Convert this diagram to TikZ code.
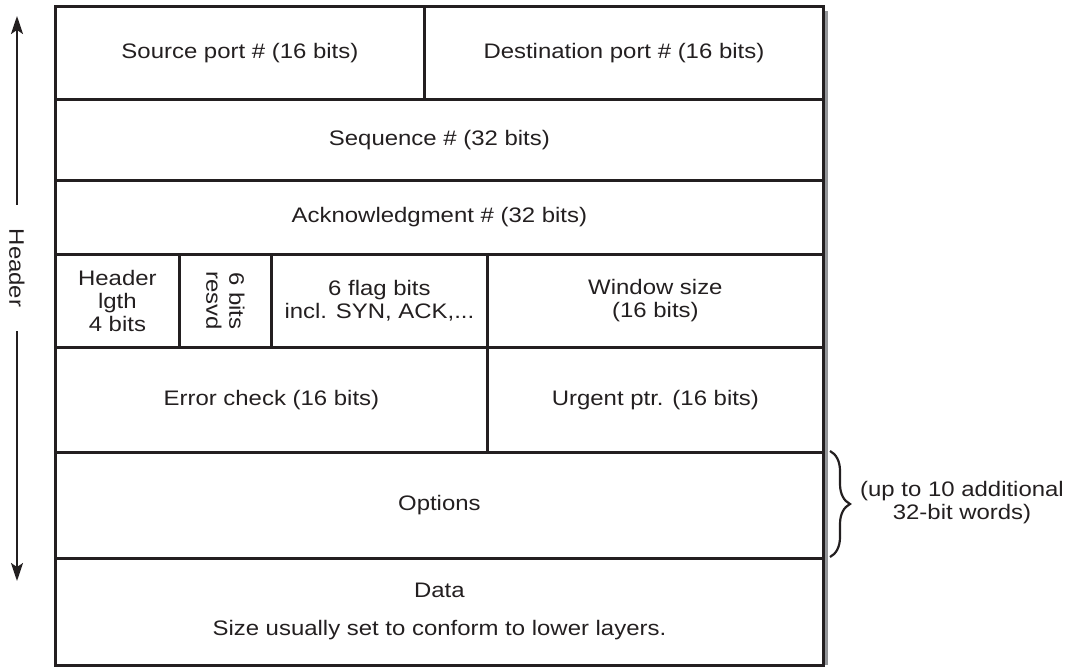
\documentclass[tikz,border=0pt]{standalone}
\usepackage{fontspec}
\setmainfont{Liberation Sans}[FakeStretch=1.14]
\usetikzlibrary{arrows.meta,positioning,decorations.pathreplacing}
\definecolor{Ink}{HTML}{231F20}
\definecolor{Shade}{HTML}{939598}

\begin{document}
\begin{tikzpicture}[x=1pt, y=-1pt,
  cell/.style={draw=Ink, line width=2.8pt, anchor=north west, inner sep=0pt,
               align=center, font=\fontsize{21}{23}\selectfont, text=Ink},
  lbl/.style={align=center, inner sep=0pt, font=\fontsize{21}{23}\selectfont, text=Ink},
  arr/.style={-{Stealth[length=18pt, width=12pt, inset=4pt]}, line width=2.2pt, draw=Ink},
  brace/.style={decorate, decoration={brace, amplitude=20pt}, line width=2.2pt, draw=Ink}]
  \useasboundingbox (0,0) rectangle (1075,667);
  % drop shadow on the right edge
  \fill[Shade] (823,11) rectangle (828,665);
  % header rows
  \node[cell, minimum width=369pt, minimum height=93pt] (src) at (54,5) {Source port \# (16 bits)};
  \node[cell, minimum width=399pt, minimum height=93pt] (dst) at (423,5) {Destination port \# (16 bits)};
  \node[cell, minimum width=768pt, minimum height=81pt] (seq) at (54,98) {Sequence \# (32 bits)};
  \node[cell, minimum width=768pt, minimum height=74pt] (ack) at (54,179) {Acknowledgment \# (32 bits)};
  \node[cell, minimum width=124pt, minimum height=93pt] (hlen) at (54,253) {Header\\lgth\\4 bits};
  \node[cell, minimum width=92pt, minimum height=93pt] (resv) at (178,253) {};
  \node[lbl, rotate=-90] (resvtxt) at (resv.center) {6 bits\\resvd};
  \node[cell, minimum width=216pt, minimum height=93pt] (flags) at (270,253) {6 flag bits\\incl. SYN, ACK,...};
  \node[cell, minimum width=336pt, minimum height=93pt] (win) at (486,253) {Window size\\(16 bits)};
  \node[cell, minimum width=432pt, minimum height=105pt] (err) at (54,346) {Error check (16 bits)};
  \node[cell, minimum width=336pt, minimum height=105pt] (urg) at (486,346) {Urgent ptr. (16 bits)};
  \node[cell, minimum width=768pt, minimum height=106pt] (opt) at (54,451) {Options};
  \node[cell, minimum width=768pt, minimum height=107pt] (data) at (54,557) {Data\\[15pt]Size usually set to conform to lower layers.};
  % header extent
  \coordinate (htop) at (17,16);
  \coordinate (hbot) at (17,581);
  \node[lbl, rotate=-90, inner xsep=24pt] (hdr) at (17,268) {Header};
  \draw[arr] (hdr) -- (htop);
  \draw[arr] (hdr) -- (hbot);
  % options note
  \coordinate (bt) at (830,451);
  \coordinate (bb) at (830,557);
  \draw[brace] (bt) -- (bb);
  \node[lbl, anchor=west] (words) at (860,503) {(up to 10 additional\\32-bit words)};
\end{tikzpicture}
\end{document}
